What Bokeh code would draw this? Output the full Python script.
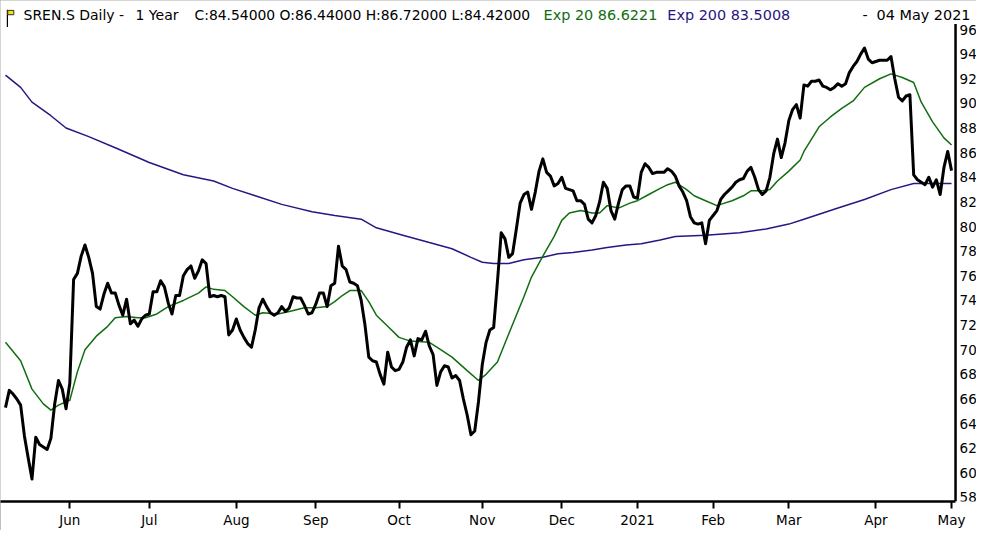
from bokeh.plotting import figure
from bokeh.models import FixedTicker, Range1d, Label
from bokeh.embed import file_html
from bokeh.resources import INLINE
from bokeh.core.properties import value

# ---------------- data ----------------
month_labels = ["Jun", "Jul", "Aug", "Sep", "Oct", "Nov", "Dec", "2021", "Feb", "Mar", "Apr", "May"]
first_month_start = 17                     # trading days in the series before June
trading_days_per_month = [21, 23, 21, 22, 22, 21, 20, 20, 20, 23, 20]
price_ticks = [58, 60, 62, 64, 66, 68, 70, 72, 74, 76, 78, 80, 82, 84, 86, 88, 90, 92, 94, 96]
price_tick_labels = [str(t) for t in price_ticks]

close = [
    65.3, 66.7, 66.4, 66.0, 65.5, 63.0, 61.2, 59.5, 62.9, 62.3,
    62.1, 61.9, 62.8, 65.6, 67.5, 66.8, 65.2, 67.3, 75.7, 76.2,
    77.6, 78.5, 77.5, 76.2, 73.5, 73.3, 74.5, 75.4, 74.6, 74.6,
    73.6, 72.8, 74.1, 72.1, 72.4, 71.9, 72.5, 72.8, 72.9, 74.7,
    74.7, 75.6, 75.1, 73.8, 72.9, 74.4, 74.4, 76.0, 76.5, 76.8,
    75.8, 76.4, 77.3, 77.0, 74.3, 74.4, 74.3, 74.4, 74.3, 71.2,
    71.6, 72.5, 71.6, 71.0, 70.5, 70.2, 71.6, 73.4, 74.1, 73.5,
    73.0, 72.8, 73.0, 73.5, 73.1, 73.4, 74.3, 74.2, 74.2, 73.6,
    72.9, 73.0, 73.7, 74.6, 74.6, 73.5, 75.2, 75.4, 78.4, 76.8,
    76.5, 75.5, 75.4, 75.2, 74.0, 72.0, 69.4, 69.1, 69.0, 68.0,
    67.2, 69.8, 68.6, 68.3, 68.4, 69.0, 70.2, 70.8, 69.5, 70.9,
    70.8, 71.5, 70.3, 69.6, 67.1, 68.2, 68.7, 68.6, 67.7, 67.9,
    67.5, 66.0, 64.7, 63.1, 63.4, 65.8, 68.8, 70.6, 71.6, 71.8,
    75.5, 79.5, 79.0, 77.5, 77.8, 79.8, 81.9, 82.6, 82.8, 81.4,
    82.8, 84.5, 85.5, 84.4, 84.1, 83.3, 83.5, 84.0, 83.1, 83.0,
    82.9, 82.1, 82.1, 81.8, 80.6, 80.3, 80.9, 82.0, 83.6, 83.1,
    81.3, 80.6, 81.9, 83.0, 83.3, 83.3, 82.4, 82.3, 84.4, 85.1,
    84.8, 84.3, 84.4, 84.4, 84.4, 84.7, 84.5, 84.1, 83.3, 82.8,
    82.1, 80.8, 80.3, 80.2, 80.3, 78.6, 80.5, 80.9, 81.3, 82.2,
    82.6, 82.9, 83.2, 83.6, 83.8, 83.9, 84.5, 84.8, 84.0, 83.0,
    82.6, 82.9, 84.0, 85.9, 87.1, 85.6, 86.8, 88.6, 89.5, 89.9,
    88.8, 91.5, 91.4, 91.8, 91.8, 91.9, 91.4, 91.3, 91.1, 91.3,
    91.6, 91.4, 91.6, 92.5, 93.0, 93.4, 94.0, 94.5, 93.6, 93.3,
    93.4, 93.5, 93.5, 93.5, 93.8, 92.0, 90.5, 90.2, 90.6, 90.7,
    84.2, 83.8, 83.6, 83.4, 84.0, 83.2, 83.8, 82.6, 84.8, 86.1,
    84.54,
]

ema20_day = [0, 4, 7, 10, 12, 14, 17, 19, 21, 24, 27, 29, 32, 35, 37, 40, 43, 47, 51, 53,
             55, 58, 60, 63, 66, 68, 72, 75, 79, 82, 85, 87, 89, 91, 94, 96, 98, 101, 104, 107,
             112, 115, 118, 122, 125, 127, 130, 133, 137, 139, 142, 145, 147, 149, 152, 155, 157, 159, 162, 165,
             167, 170, 173, 175, 177, 180, 182, 185, 188, 189, 192, 195, 197, 200, 202, 204, 207, 210, 211, 213,
             215, 218, 221, 224, 227, 231, 234, 237, 240, 242, 245, 248, 250]
ema20_val = [70.6, 69.1, 66.8, 65.6, 65.1, 65.5, 65.9, 68.2, 70.0, 71.1, 71.9, 72.6, 72.7, 72.6, 72.6, 72.9, 73.5, 74.0, 74.6, 75.1,
             74.9, 74.8, 74.3, 73.5, 72.8, 73.0, 72.9, 73.1, 73.4, 73.4, 73.5, 73.9, 74.4, 74.8, 74.8, 73.9, 72.8, 71.9, 71.0, 70.7,
             70.6, 70.0, 69.4, 68.3, 67.5, 68.0, 69.0, 71.3, 74.3, 75.9, 77.6, 79.2, 80.5, 81.1, 81.3, 81.1, 81.1, 81.7, 81.5, 81.9,
             82.1, 82.6, 83.1, 83.4, 83.6, 83.0, 82.5, 82.1, 81.7, 81.8, 82.1, 82.5, 82.9, 82.9, 83.0, 83.7, 84.5, 85.4, 86.1, 87.1,
             88.1, 88.9, 89.6, 90.2, 91.3, 92.0, 92.4, 92.1, 91.7, 90.1, 88.5, 87.2, 86.62]

ema200_day = [0, 4, 7, 12, 16, 22, 29, 38, 47, 55, 60, 66, 73, 81, 87, 94, 98, 105, 112, 118,
              123, 126, 129, 133, 137, 142, 146, 150, 155, 159, 164, 168, 173, 177, 185, 194, 201, 207, 211, 220,
              227, 234, 240, 245, 250]
ema200_val = [92.3, 91.3, 90.1, 89.0, 88.0, 87.3, 86.4, 85.2, 84.2, 83.7, 83.1, 82.5, 81.8, 81.2, 80.9, 80.6, 79.9, 79.3, 78.7, 78.2,
              77.5, 77.1, 77.0, 77.0, 77.3, 77.5, 77.8, 77.9, 78.1, 78.3, 78.5, 78.6, 78.9, 79.2, 79.3, 79.5, 79.8, 80.2, 80.6, 81.5,
              82.2, 83.0, 83.5, 83.5, 83.5]

# ---------------- derived ----------------
days = list(range(len(close)))
month_ticks = [first_month_start]
for n in trading_days_per_month:
    month_ticks.append(month_ticks[-1] + n)

GREEN = "#116d11"
NAVY = "#2a1683"
FONT = "DejaVu Sans"

X0, X1 = -1.32, 256.6        # visible index range (chart area + price-label strip)
RIGHT_EDGE = 251.06          # where the price axis sits
Y0, Y1 = 57.675, 98.355

p = figure(frame_width=976, frame_height=501,
           x_range=Range1d(X0, X1), y_range=Range1d(Y0, Y1),
           y_axis_location=None,
           output_backend="svg", toolbar_location=None,
           min_border_left=0, min_border_top=0, min_border_right=0, min_border_bottom=0)
p.styles = {"outline": "2px solid #ababab", "outline-offset": "-2px"}
p.background_fill_color = "white"
p.border_fill_color = "white"
p.outline_line_color = None
p.xgrid.visible = False
p.ygrid.visible = False

p.line(ema200_day, ema200_val, line_color=NAVY, line_width=1.5)
p.line(ema20_day, ema20_val, line_color=GREEN, line_width=1.5)
p.line(days, close, line_color="black", line_width=3, line_join="round")

# price axis (right side of chart area)
p.segment(x0=[RIGHT_EDGE], y0=[Y0], x1=[RIGHT_EDGE], y1=[96.45],
          line_color="black", line_width=2.5)
p.text(x=[RIGHT_EDGE] * len(price_ticks), y=price_ticks, text=price_tick_labels,
       x_offset=4, text_align="left", text_baseline="middle",
       text_font=value(FONT), text_font_size="13.5px", text_color="black")

# time axis
xa = p.xaxis[0]
xa.ticker = FixedTicker(ticks=month_ticks)
xa.major_label_overrides = {t: lab for t, lab in zip(month_ticks, month_labels)}
xa.bounds = (X0, RIGHT_EDGE)
xa.axis_line_color = "black"
xa.axis_line_width = 2.5
xa.major_tick_line_color = "black"
xa.major_tick_line_width = 2
xa.major_tick_out = 7
xa.major_tick_in = 0
xa.minor_tick_line_color = None
xa.major_label_standoff = 3
xa.major_label_text_align = "left"
xa.major_label_text_font = FONT
xa.major_label_text_font_size = "13.5px"
xa.major_label_text_color = "black"

# ---------------- header ----------------
header_y = 97.14
header = [
    (4.76, "SREN.S Daily -", "black", "left", "14px"),
    (34.36, "1 Year", "black", "left", "14px"),
    (49.95, "C:84.54000 O:86.44000 H:86.72000 L:84.42000", "black", "left", "13.9px"),
    (142.2, "Exp 20 86.6221", GREEN, "left", "14.4px"),
    (174.9, "Exp 200 83.5008", NAVY, "left", "14.4px"),
    (226.5, "-", "black", "left", "14.4px"),
    (255.0, "04 May 2021", "black", "right", "14.4px"),
]
for hx, txt, col, al, fs in header:
    p.add_layout(Label(x=hx, y=header_y, text=txt, text_color=col,
                       text_font=FONT, text_font_size=fs,
                       text_baseline="middle", text_align=al))

# small flag icon before the title
p.segment(x0=[0.5], y0=[96.2], x1=[0.5], y1=[97.6], line_color="black", line_width=1.2)
p.quad(left=[0.6], right=[2.2], top=[97.55], bottom=[97.2],
       fill_color="#f2e600", line_color="#333333", line_width=1)

open("out.html", "w").write(file_html(p, INLINE))
